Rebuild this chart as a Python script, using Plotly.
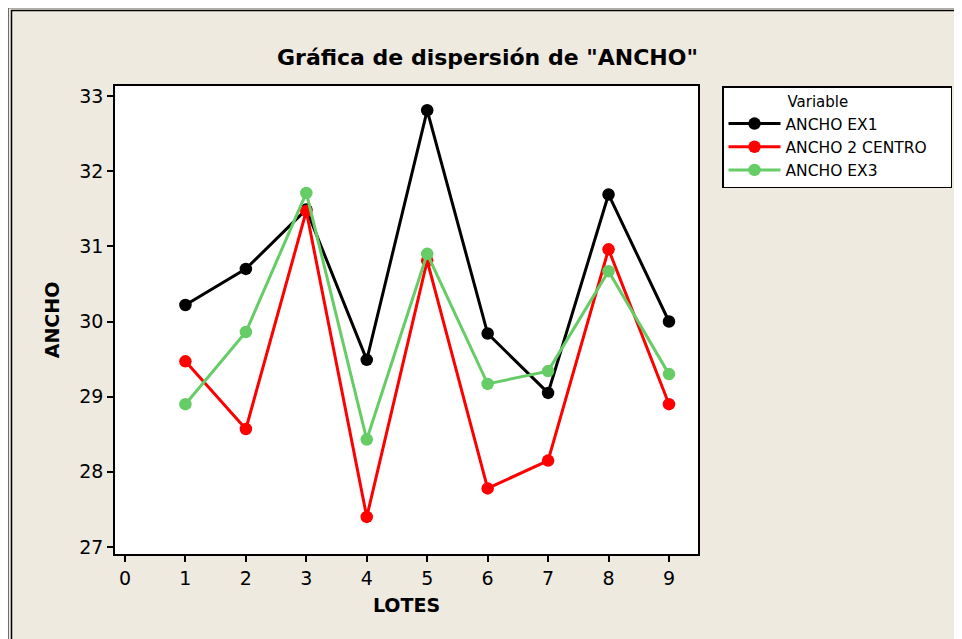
import plotly.graph_objects as go

lotes = [1, 2, 3, 4, 5, 6, 7, 8, 9]
ancho_ex1 = [30.22, 30.70, 31.49, 29.49, 32.81, 29.84, 29.05, 31.69, 30.00]
ancho_2_centro = [29.47, 28.57, 31.47, 27.40, 30.81, 27.78, 28.15, 30.96, 28.90]
ancho_ex3 = [28.90, 29.86, 31.71, 28.43, 30.90, 29.17, 29.34, 30.67, 29.30]

series = [
    ("ANCHO EX1", ancho_ex1, "#000000"),
    ("ANCHO 2 CENTRO", ancho_2_centro, "#FF0000"),
    ("ANCHO EX3", ancho_ex3, "#66CC66"),
]

FONT = "DejaVu Sans"
BG = "#EEEAE0"

fig = go.Figure()
for name, vals, col in series:
    fig.add_trace(go.Scatter(
        x=lotes, y=vals, name=name, mode="lines+markers",
        line=dict(color=col, width=3),
        marker=dict(color=col, size=12.5),
    ))

# page offset (body margin) = 8px
OFF = 8
W, H = 962 - OFF, 639 - OFF
# plot area in page coords
L, R, T, B = 115, 698, 86, 554
pw, ph = R - L, B - T

def px(X):
    return (X - L) / pw

def py(Y):
    return (B - Y) / ph

shapes = [
    dict(type="rect", xref="paper", yref="paper", x0=px(8.5), x1=px(1100), y0=py(8), y1=py(900),
         line=dict(color="#6E6E6E", width=1), layer="below"),
    dict(type="rect", xref="paper", yref="paper", x0=px(11.5), x1=px(1100), y0=py(10.5), y1=py(900),
         line=dict(color="#000000", width=1.5), layer="below"),
]

fig.update_layout(
    width=W, height=H,
    margin=dict(l=L - OFF, r=(962 - R), t=T - OFF, b=(639 - B), pad=0, autoexpand=False),
    paper_bgcolor=BG, plot_bgcolor="white",
    font=dict(family=FONT, color="black"),
    showlegend=True,
    shapes=shapes,
    annotations=[
        dict(text="<b>Gráfica de dispersión de \"ANCHO\"</b>", xref="paper", yref="paper",
             x=px(487), y=py(57), xanchor="center", yanchor="middle", showarrow=False,
             font=dict(size=22, family=FONT, color="black")),
    ],
    legend=dict(
        x=px(722), y=py(86), xanchor="left", yanchor="top",
        bgcolor="white", bordercolor="black", borderwidth=1.5,
        font=dict(size=15.5, family=FONT, color="black"),
        title=dict(text="\u00a0" * 13 + "Variable" + "\u00a0" * 21, side="top",
                   font=dict(size=15, family=FONT)),
        itemwidth=52, tracegroupgap=0,
    ),
    xaxis=dict(
        range=[-0.165, 9.48], tickmode="array", tickvals=list(range(0, 10)),
        showgrid=False, zeroline=False, showline=True, mirror=True, linecolor="black", linewidth=1.5,
        ticks="outside", ticklen=6, tickwidth=1.5, tickcolor="black",
        tickfont=dict(size=19, family=FONT),
        title=dict(text="<b>LOTES</b>", font=dict(size=19, family=FONT), standoff=11),
    ),
    yaxis=dict(
        range=[26.907, 33.133], tickmode="array", tickvals=[27, 28, 29, 30, 31, 32, 33],
        showgrid=False, zeroline=False, showline=True, mirror=True, linecolor="black", linewidth=1.5,
        ticks="outside", ticklen=6, tickwidth=1.5, tickcolor="black",
        tickfont=dict(size=19, family=FONT),
        title=dict(text="<b>ANCHO</b>", font=dict(size=19, family=FONT), standoff=15),
    ),
)

fig.write_html("out.html")
